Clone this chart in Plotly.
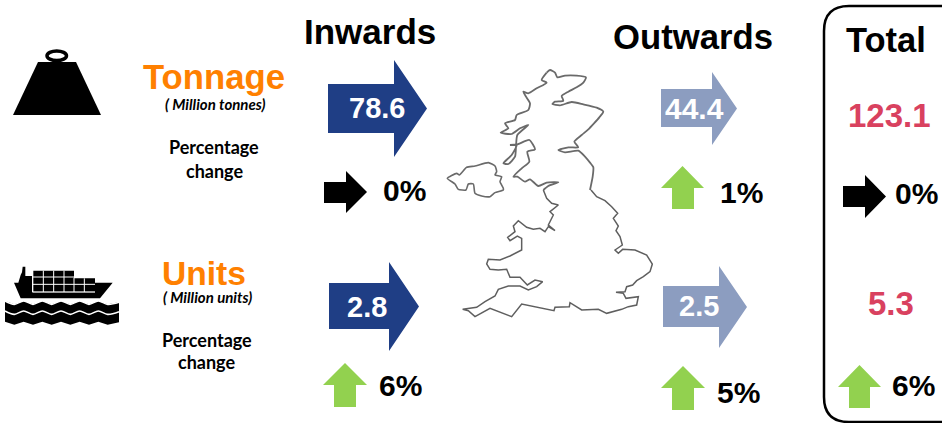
import plotly.graph_objects as go

# ---- chart values ----
measures = ["Tonnage", "Units"]
measure_units = ["( Million tonnes)", "( Million units)"]
inwards_values = ["78.6", "2.8"]
outwards_values = ["44.4", "2.5"]
total_values = ["123.1", "5.3"]
inwards_change = [0, 6]
outwards_change = [1, 5]
total_change = [0, 6]

NAVY, SLATE, GREEN, ORANGE, ROSE = "#1F3E85", "#8C9DC0", "#92D14F", "#FF8000", "#D9415F"
FONT = "Liberation Sans"
fig = go.Figure()


def poly(xs, ys, color):
    fig.add_trace(go.Scatter(x=xs, y=ys, mode="lines", fill="toself", fillcolor=color,
                             line=dict(color=color, width=0), hoverinfo="skip", showlegend=False))


def line(xs, ys, color, width, shape="linear", smoothing=1):
    fig.add_trace(go.Scatter(x=xs, y=ys, mode="lines",
                             line=dict(color=color, width=width, shape=shape,
                                       smoothing=smoothing if shape == "spline" else None),
                             hoverinfo="skip", showlegend=False))


def right_arrow(x0, base, tip, body_top, body_bottom, head_top, head_bottom, color):
    mid = (head_top + head_bottom) / 2
    poly([x0, base, base, tip, base, base, x0, x0],
         [body_top, body_top, head_top, mid, head_bottom, body_bottom, body_bottom, body_top], color)


def up_arrow(left, right, shaft_l, shaft_r, top, base, bottom):
    poly([(left + right) / 2, right, shaft_r, shaft_r, shaft_l, shaft_l, left, (left + right) / 2],
         [top, base, base, bottom, bottom, base, base, top], GREEN)


def change_arrow(pct, right_geom, up_geom):
    if pct == 0:
        right_arrow(*right_geom, "#000000")
    else:
        up_arrow(*up_geom)


def text(x, y, s, size, color="#000000", family=FONT, bold=True, italic=False):
    t = f"<b>{s}</b>" if bold else s
    t = f"<i>{t}</i>" if italic else t
    fig.add_annotation(x=x, y=y, text=t, showarrow=False, xanchor="center", yanchor="middle",
                       font=dict(size=size, color=color, family=family))


# ---- value arrows ----
right_arrow(328, 394, 427, 84, 133, 60, 157, NAVY)
right_arrow(661, 712, 737, 89, 127, 72, 145, SLATE)
right_arrow(329, 389, 419, 283, 329, 262, 351, NAVY)
right_arrow(663, 719, 747, 286, 327, 266, 348, SLATE)

# ---- change arrows: (right-arrow geometry, up-arrow geometry) per slot ----
change_arrow(inwards_change[0], (324, 346, 367, 182, 203, 171, 213), None)
change_arrow(outwards_change[0], None, (661, 704, 672, 694, 166, 188, 209))
change_arrow(total_change[0], (843, 865, 886, 186, 207, 175, 218), None)
change_arrow(inwards_change[1], None, (323, 367, 334, 356, 363, 385, 407))
change_arrow(outwards_change[1], None, (661, 705, 672, 694, 366, 388, 410))
change_arrow(total_change[1], None, (838, 881, 849, 870, 365, 387, 408))

# ---- weight icon ----
poly([38, 76, 101, 13, 38], [62, 62, 115, 115, 62], "#000000")
fig.add_shape(type="circle", x0=47, x1=66.5, y0=51, y1=60.5, line=dict(color="#000000", width=3.5),
              fillcolor="#FFFFFF", xref="x", yref="y")

# ---- ship icon (zoomed-crop coordinates scaled down) ----
def sx(v): return [None if a is None else a / 3 for a in v]
def sy(v): return [None if a is None else 215 + a / 3 for a in v]

hull_x = [42, 55, 62, 66, 68, 76, 76, 96, 96, 285, 285, 338, 300, 62, 42]
hull_y = [203, 203, 180, 172, 155, 155, 183, 183, 232, 232, 203, 203, 250, 250, 203]
poly(sx(hull_x), sy(hull_y), "#000000")
box_x = [100, 222, 222, 285, 285, 100, 100]
box_y = [167, 167, 190, 190, 230, 230, 167]
poly(sx(box_x), sy(box_y), "#000000")
grid_x = [98, 222, None, 98, 285, None, 98, 285, None, 130, 130, None, 161, 161, None, 192, 192, None,
          222, 222, None, 253, 253]
grid_y = [186, 186, None, 208, 208, None, 231, 231, None, 167, 231, None, 167, 231, None, 167, 231, None,
          188, 231, None, 190, 231]
line(sx(grid_x), sy(grid_y), "#FFFFFF", 1)

wave_x = [15, 43, 71, 99, 127, 155, 183, 211, 239, 267, 295, 323, 357]
wave_top = [258, 268, 258, 268, 258, 268, 258, 268, 258, 268, 258, 268, 262]
wave_mid = [288, 298, 288, 298, 288, 298, 288, 298, 288, 298, 288, 298, 290]
wave_low = [320, 329, 320, 329, 320, 329, 320, 329, 320, 329, 320, 329, 322]
band_x = wave_x + wave_x[::-1] + [wave_x[0]]
band_y = wave_top + wave_low[::-1] + [wave_top[0]]
poly(sx(band_x), sy(band_y), "#000000")
line(sx(wave_x), sy(wave_mid), "#FFFFFF", 1.6, "spline")
line(sx(wave_x), sy(wave_top), "#FFFFFF", 1.6, "spline")

# ---- map outline ----
gb_n_x = [320, 330, 345, 352, 375, 410, 438, 430, 410, 385, 365, 370, 345, 337, 360, 395, 430, 470, 490, 478, 462,
          445, 425, 403, 415, 385, 355, 375, 415, 435, 450, 460, 458, 450]
gb_n_y = [38, 30, 38, 52, 47, 47, 52, 68, 82, 95, 108, 122, 125, 132, 136, 126, 133, 143, 155, 172, 190,
          208, 225, 245, 262, 262, 270, 277, 272, 290, 308, 322, 350, 390]
gb_s_x = [453, 470, 495, 515, 533, 520, 535, 528, 540, 547, 525, 535, 548, 585, 620, 637, 630, 610, 590, 578, 560,
          555, 528, 550, 558, 595, 590, 565, 545, 500, 475, 425, 390, 388, 345, 342, 245, 215, 150, 105, 85, 68,
          110, 135, 165, 175, 205, 240, 265, 290, 308, 285, 262, 240, 210, 200, 175, 150, 140, 145, 180, 210, 245,
          245, 232, 210, 203, 225, 220, 235, 260, 280, 300, 315, 325, 345, 325, 340, 330, 355, 335, 320, 310]
gb_s_y = [0, 20, 32, 50, 70, 85, 108, 122, 140, 165, 180, 190, 178, 180, 195, 222, 245, 260, 272, 285, 290,
          305, 307, 310, 325, 320, 345, 350, 358, 370, 358, 360, 338, 350, 352, 362, 342, 380, 355, 380, 362, 358,
          352, 335, 318, 298, 288, 288, 300, 290, 275, 270, 285, 262, 262, 238, 240, 238, 222, 208, 210, 198, 180,
          145, 138, 152, 142, 125, 108, 92, 112, 118, 115, 125, 110, 122, 105, 75, 65, 45, 40, 25, 0]
gb_w_x = [310, 325, 355, 320, 295, 270, 255, 232, 220, 245, 268, 262, 285, 268, 240, 228, 210, 230, 215, 190, 205, 225,
          228, 232, 265, 240, 215, 182, 205, 195, 225, 230, 265, 270, 258, 250, 265, 290, 320, 305, 320]
gb_w_y = [390, 378, 367, 368, 378, 358, 365, 350, 350, 325, 305, 275, 268, 240, 250, 255, 255, 255, 285, 310, 312, 290,
          260, 225, 195, 205, 222, 218, 205, 190, 180, 165, 150, 130, 110, 95, 100, 85, 68, 60, 38]
ni_x = [22, 50, 58, 80, 105, 145, 165, 170, 165, 185, 180, 190, 190, 165, 150, 125, 105, 100, 85, 78, 55, 45, 22]
ni_y = [355, 340, 345, 322, 318, 308, 318, 335, 345, 350, 365, 385, 390, 398, 410, 408, 400, 372, 372, 390, 388, 372, 355]


def mx(v): return [440 + a / 3 for a in v]
def my(v, top): return [top + a / 3 for a in v]


line(mx(gb_n_x), my(gb_n_y, 60), "#6A6A6A", 1.8, "spline", 0.6)
line(mx(gb_s_x), my(gb_s_y, 190), "#5F5F5F", 1.5)
line(mx(gb_w_x), my(gb_w_y, 60), "#6A6A6A", 1.8, "spline", 0.6)
line(mx(ni_x), my(ni_y, 60), "#6A6A6A", 1.6, "spline", 0.5)

# ---- total box ----
fig.add_shape(type="path", xref="x", yref="y", line=dict(color="#000000", width=2.5),
              path="M 950 6 L 849 6 Q 824 6 824 31 L 824 397 Q 824 422 849 422 L 950 422")

# ---- text ----
text(370, 31, "Inwards", 35)
text(693, 37, "Outwards", 34.7)
text(885.5, 40, "Total", 34.5)
text(214, 77, measures[0], 34.7, ORANGE)
text(204, 273, measures[1], 33.6, ORANGE)
text(215.5, 104, measure_units[0], 15, family="Lato", italic=True)
text(207, 297, measure_units[1], 15, family="Lato", italic=True)
for x, ys in ((214, (146.5, 170.5)), (206.5, (340, 362))):
    text(x, ys[0], "Percentage", 18, family="Lato")
    text(x, ys[1], "change", 18, family="Lato")

text(377, 108, inwards_values[0], 29, "#FFFFFF")
text(694, 108, outwards_values[0], 30, "#FFFFFF")
text(367, 307, inwards_values[1], 29, "#FFFFFF")
text(699, 306, outwards_values[1], 29, "#FFFFFF")
text(889, 115, total_values[0], 33, ROSE)
text(891, 303, total_values[1], 33, ROSE)

text(404, 190, f"{inwards_change[0]}%", 30)
text(741, 192, f"{outwards_change[0]}%", 30)
text(916, 193, f"{total_change[0]}%", 30)
text(400, 385, f"{inwards_change[1]}%", 30)
text(738, 392, f"{outwards_change[1]}%", 30)
text(913, 385, f"{total_change[1]}%", 30)

fig.update_layout(width=942, height=423, margin=dict(l=0, r=0, t=0, b=0), paper_bgcolor="#FFFFFF",
                  plot_bgcolor="#FFFFFF", showlegend=False,
                  xaxis=dict(range=[0, 942], visible=False, fixedrange=True),
                  yaxis=dict(range=[423, 0], visible=False, fixedrange=True))
fig.write_html("out.html", config={"displayModeBar": False},
               post_script="document.body.style.margin='0';document.documentElement.style.overflow='hidden';")
